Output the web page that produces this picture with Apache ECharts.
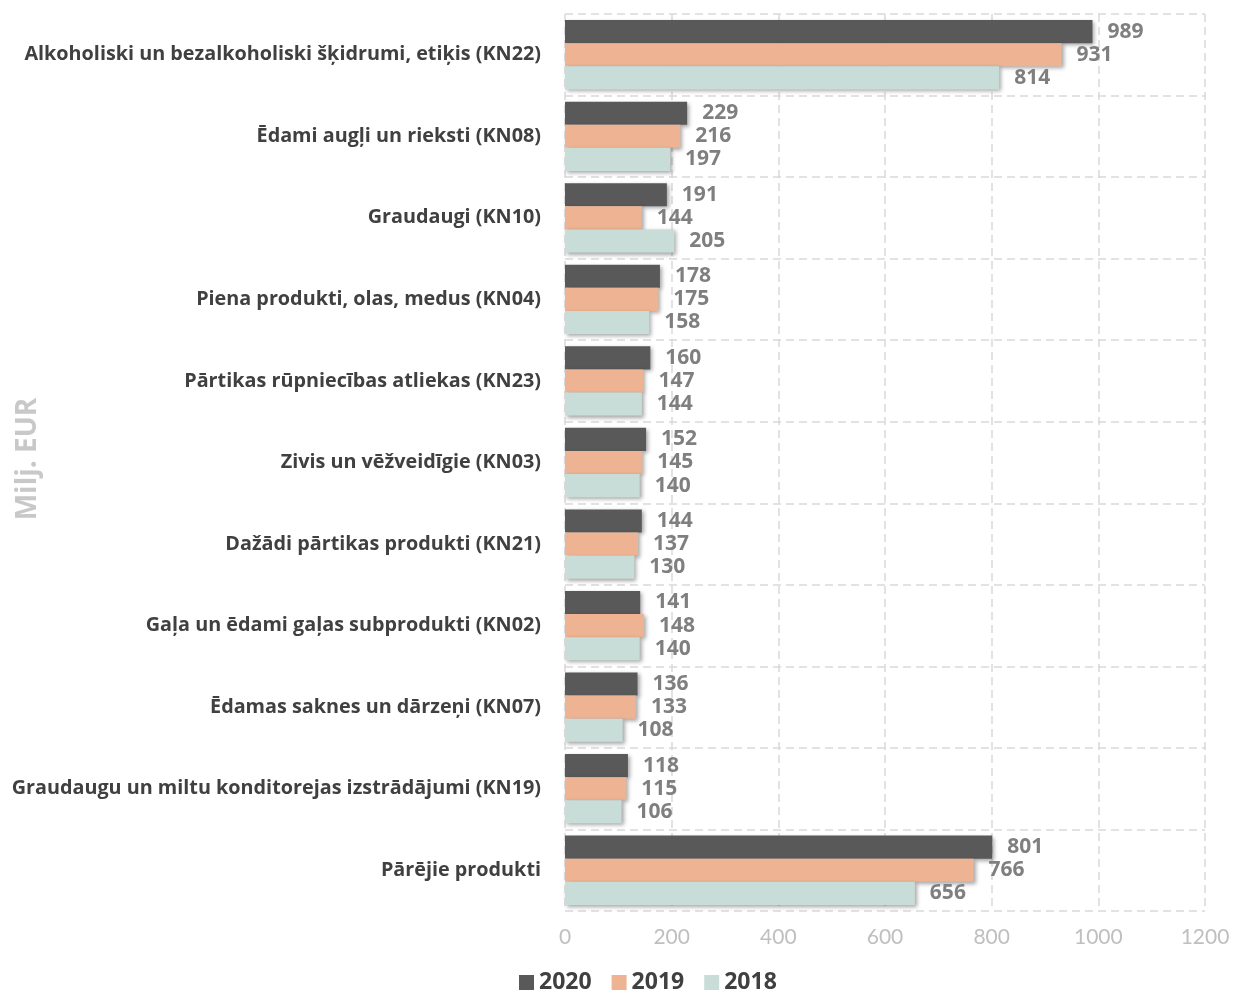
<!DOCTYPE html>
<html><head><meta charset="utf-8">
<script src="https://cdn.jsdelivr.net/npm/echarts@6/dist/echarts.min.js"></script>
<style>html,body{margin:0;padding:0;background:#fff}#c{width:1233px;height:994px}</style>
</head><body><div id="c"></div>
<script>
const categories = [
  "Alkoholiski un bezalkoholiski šķidrumi, etiķis (KN22)",
  "Ēdami augļi un rieksti (KN08)",
  "Graudaugi (KN10)",
  "Piena produkti, olas, medus (KN04)",
  "Pārtikas rūpniecības atliekas (KN23)",
  "Zivis un vēžveidīgie (KN03)",
  "Dažādi pārtikas produkti (KN21)",
  "Gaļa un ēdami gaļas subprodukti (KN02)",
  "Ēdamas saknes un dārzeņi (KN07)",
  "Graudaugu un miltu konditorejas izstrādājumi (KN19)",
  "Pārējie produkti"
];
const v2020 = [989, 229, 191, 178, 160, 152, 144, 141, 136, 118, 801];
const v2019 = [931, 216, 144, 175, 147, 145, 137, 148, 133, 115, 766];
const v2018 = [814, 197, 205, 158, 144, 140, 130, 140, 108, 106, 656];
const xTicks = {min: 0, max: 1200, interval: 200};
const yName = 'Milj. EUR';

const font = "'Open Sans', sans-serif";
const fontNum = "Lato, 'Open Sans', sans-serif";
function mk(name, data, color) {
  return {
    name: name, type: 'bar', data: data, barGap: '0%', barCategoryGap: '15%',
    itemStyle: {color: color, shadowBlur: 4, shadowOffsetX: 2, shadowOffsetY: 2, shadowColor: 'rgba(0,0,0,0.35)'},
    label: {show: true, position: 'right', distance: 15, color: '#7f7f7f', fontWeight: 'bold', fontSize: 21, fontFamily: font},
    emphasis: {disabled: true}
  };
}
const chart = echarts.init(document.getElementById('c'));
chart.setOption({
  animation: false,
  textStyle: {fontFamily: font},
  grid: {left: 565, right: 28, top: 14, bottom: 83, containLabel: false, outerBoundsMode: 'none'},
  legend: {
    left: 514, top: 966, itemWidth: 15, itemHeight: 15, itemGap: 20,
    icon: 'rect',
    textStyle: {color: '#404040', fontWeight: 'bold', fontSize: 23, fontFamily: font},
    data: ['2020', '2019', '2018']
  },
  graphic: [{
    type: 'text', x: 28, y: 459, rotation: Math.PI / 2,
    style: {text: yName, fill: '#c8c8c8', font: "bold 28px 'Open Sans', sans-serif", align: 'center', verticalAlign: 'middle'}
  }],
  xAxis: {
    type: 'value', min: xTicks.min, max: xTicks.max, interval: xTicks.interval,
    axisLine: {show: false}, axisTick: {show: false},
    axisLabel: {color: '#bfbfbf', fontSize: 21, margin: 16, fontFamily: fontNum, formatter: v => String(v)},
    splitLine: {show: true, lineStyle: {color: '#d9d9d9', type: [8, 5], width: 1.5}}
  },
  yAxis: {
    type: 'category', data: categories, inverse: true,
    axisLine: {show: false}, axisTick: {show: false},
    axisLabel: {color: '#404040', fontWeight: 'bold', fontSize: 19.8, margin: 24, fontFamily: font},
    splitLine: {show: true, lineStyle: {color: '#d9d9d9', type: [8, 5], width: 1.5}}
  },
  series: [
    mk('2020', v2020, '#595959'),
    mk('2019', v2019, '#edb392'),
    mk('2018', v2018, '#c9ddd8')
  ]
});
</script></body></html>
